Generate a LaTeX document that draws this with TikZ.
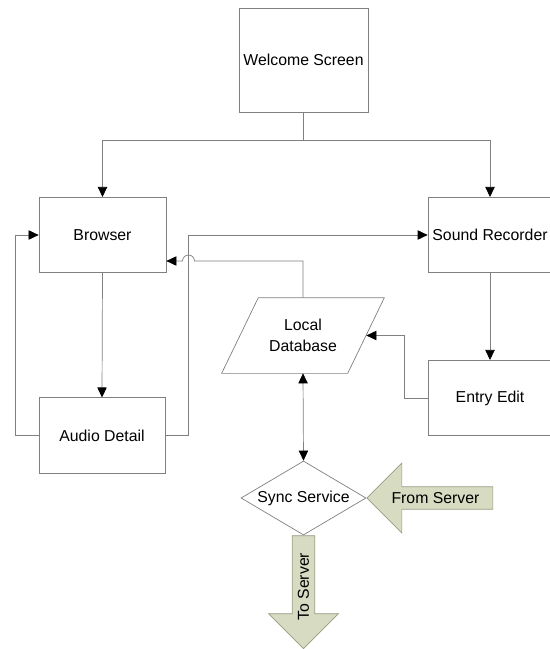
\documentclass[tikz,border=0pt]{standalone}
\usepackage{fontspec}
\setmainfont{Liberation Sans}
\usetikzlibrary{arrows.meta,shapes.geometric,shapes.arrows}

\definecolor{linegray}{RGB}{128,128,128}
\definecolor{arrowfill}{RGB}{214,219,193}
\definecolor{arrowline}{RGB}{150,156,128}

\begin{document}
\begin{tikzpicture}[x=0.03cm,y=-0.03cm,>={Triangle[length=3mm,width=2.8mm,color=black]},
    semithick,font=\fontsize{13.5}{18}\selectfont]
        \tikzstyle{screen}=[rectangle,draw=linegray,minimum width=3.78cm,minimum height=2.26cm]
        \tikzstyle{flow}=[draw=linegray]
        \tikzstyle{bigarrow}=[single arrow,draw=arrowline,fill=arrowfill,minimum width=2.1cm,
            single arrow head extend=0.69cm,inner xsep=0pt,inner ysep=4.2pt]

        \useasboundingbox (0,0) rectangle (549,649);

        \node[screen,minimum width=3.87cm,minimum height=3.12cm] (W) at (303.5,60)  {Welcome Screen};
        \node[screen,minimum width=3.81cm] (B) at (102.5,235) {Browser};
        \node[screen,minimum width=3.72cm] (R) at (490,235)   {Sound Recorder};
        \node[screen]                      (A) at (102,435.5) {Audio Detail};
        \node[screen,minimum width=3.72cm] (E) at (490,398)   {Entry Edit};
        \node[minimum width=3.78cm,minimum height=2.25cm,align=center] (D) at (303,335.5) {Local\\Database};
        \node[diamond,draw=linegray,aspect=1.7,inner sep=0pt,minimum width=3.75cm,minimum height=2.22cm]
                                           (S) at (303.5,498) {Sync Service};
        \node[bigarrow,shape border rotate=180,minimum height=3.78cm,anchor=tip] (FS) at (S.east) {From Server};
        \node[bigarrow,rotate=90,shape border rotate=180,minimum height=3.39cm,anchor=tail] (TS) at (S.south) {To Server};

        % parallelogram round the database
        \draw[flow] ([xshift=0.56cm]D.north west) -- ([xshift=0.54cm]D.north east)
                 -- ([xshift=-0.56cm]D.south east) -- ([xshift=-0.54cm]D.south west) -- cycle;

        \coordinate (J1) at (194.5,261);
        \coordinate (J2) at (182.5,261);

        \draw[flow,->] (W.south) -- ++(0,28) -| (B.north);
        \draw[flow,->] (W.south) -- ++(0,28) -| (R.north);
        \draw[flow,->] (B.south) -- (A.north);
        \draw[flow,->] (A.west) -- ++(-23,0) |- (B.west);
        \draw[flow,->] (A.east) -- ++(23,0) |- (R.west);
        \draw[flow,->] (D.north) |- (J1) arc[start angle=0,end angle=-180,radius=6] -- (B.east |- J2);
        \draw[flow,->] (R.south) -- (E.north);
        \draw[flow,->] (E.west) -- ++(-23,0) |- (D.east);
        \draw[flow,<->] (D.south) -- (S.north);
\end{tikzpicture}
\end{document}
